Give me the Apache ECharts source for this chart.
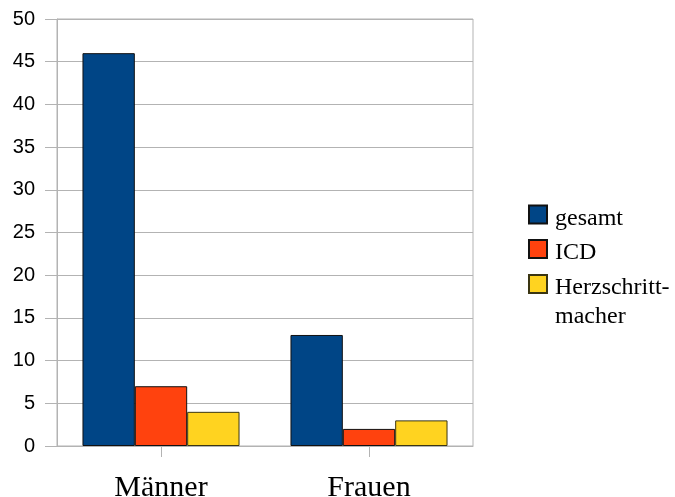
<!DOCTYPE html>
<html>
<head>
<meta charset="utf-8">
<script src="https://cdn.jsdelivr.net/npm/echarts@6/dist/echarts.min.js"></script>
<style>
  html, body { margin: 0; padding: 0; background: #fff; }
  #chart { width: 675px; height: 497px; }
</style>
</head>
<body>
<div id="chart"></div>
<script>
// Gruppen und Werte
const categories = ['Männer', 'Frauen'];
const seriesNames = ['gesamt', 'ICD', 'Herzschritt-\nmacher'];
const gesamt = [46, 13];
const icd = [7, 2];
const herzschrittmacher = [4, 3];
const yTicks = [0, 5, 10, 15, 20, 25, 30, 35, 40, 45, 50];

const colors = ['#004586', '#ff420e', '#ffd320'];
const values = [gesamt, icd, herzschrittmacher];

const chart = echarts.init(document.getElementById('chart'));

const gridColor = '#b3b3b3';

// legend text: an invisible spacer line above keeps the first text line
// level with the swatch; the spacer is taller for the two-line entry
function legendText(spacer) {
  return function (name) {
    const lines = name.split('\n').map(l => '{a|' + l + '}');
    return '{' + spacer + '| }\n' + lines.join('\n');
  };
}

const legendRich = {
  s1: { fontSize: 8, lineHeight: 8 },
  s2: { fontSize: 37, lineHeight: 37 },
  a: {
    fontFamily: 'Liberation Serif',
    fontSize: 24,
    color: '#000',
    lineHeight: 29,
    padding: [0, 0, 0, 3]
  }
};

const legendBase = {
  orient: 'vertical',
  left: 528,
  padding: 0,
  itemWidth: 18,
  itemHeight: 18,
  itemGap: 0,
  icon: 'rect',
  textStyle: { rich: legendRich }
};

chart.setOption({
  animation: false,
  grid: {
    left: 57, top: 19, width: 416, height: 427,
    outerBoundsMode: 'none',
    containLabel: false,
    show: true, borderColor: gridColor, borderWidth: 1, backgroundColor: 'transparent'
  },
  legend: [
    Object.assign({}, legendBase, {
      top: 196,
      formatter: legendText('s1'),
      data: seriesNames.slice(0, 2)
    }),
    Object.assign({}, legendBase, {
      top: 236.5,
      formatter: legendText('s2'),
      data: seriesNames.slice(2)
    })
  ],
  xAxis: {
    type: 'category',
    data: categories,
    axisLine: { lineStyle: { color: gridColor } },
    axisTick: { show: true, alignWithLabel: true, length: 11, lineStyle: { color: gridColor } },
    axisLabel: {
      fontFamily: 'Liberation Serif',
      fontSize: 30,
      color: '#000',
      margin: 27
    },
    splitLine: { show: false }
  },
  yAxis: {
    type: 'value',
    min: yTicks[0],
    max: yTicks[yTicks.length - 1],
    interval: yTicks[1] - yTicks[0],
    axisLine: { show: true, lineStyle: { color: gridColor } },
    axisTick: { show: true, length: 12, lineStyle: { color: gridColor } },
    axisLabel: {
      fontFamily: 'Liberation Sans',
      fontSize: 20,
      color: '#000',
      margin: 22
    },
    splitLine: { show: true, lineStyle: { color: gridColor } }
  },
  series: seriesNames.map((name, i) => ({
    name: name,
    type: 'bar',
    data: values[i],
    barGap: '0%',
    barCategoryGap: '24.5%',
    itemStyle: {
      color: colors[i],
      borderColor: i === 2 ? '#3a3512' : '#111',
      borderWidth: 1
    }
  }))
});
</script>
</body>
</html>
